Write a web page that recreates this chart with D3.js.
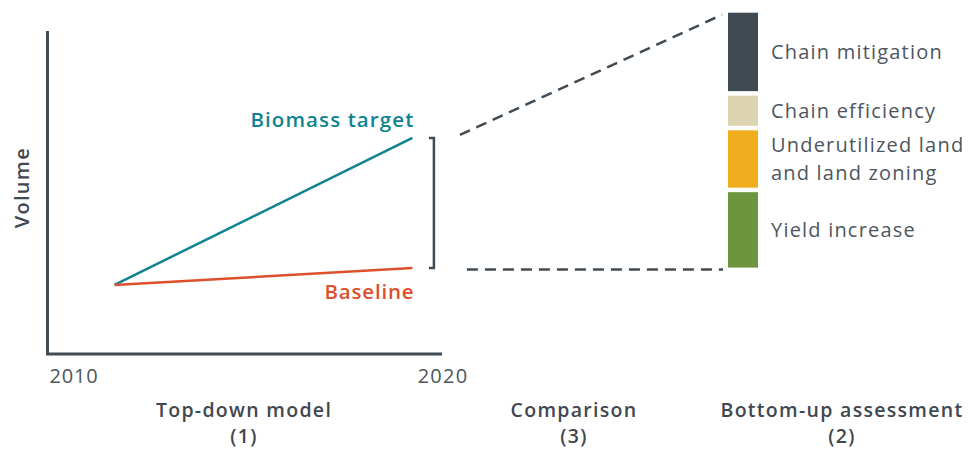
<!DOCTYPE html>
<html>
<head>
<meta charset="utf-8">
<script src="https://cdn.jsdelivr.net/npm/d3@7"></script>
<style>
  html, body { margin: 0; padding: 0; background: #ffffff; }
  svg { display: block; font-family: "Open Sans", "DejaVu Sans", sans-serif; }
</style>
</head>
<body>
<svg id="chart" width="968" height="449"></svg>
<script>
// ---- Data ----
const years = [2010, 2020];
const tickLabels = ["2010", "2020"];
const baselineSeries = [{ year: 2011.7, value: 21.4 }, { year: 2019.25, value: 26.6 }];
const targetSeries = [{ year: 2011.7, value: 21.4 }, { year: 2019.25, value: 66.9 }];
const seriesNames = ["Biomass target", "Baseline"];
const measures = ["Yield increase", "Underutilized land\nand land zoning", "Chain efficiency", "Chain mitigation"];
const measureValues = [75, 57, 30, 78];
const measureColors = ["#6c963d", "#f0ae1f", "#ddd5b2", "#3f4a53"];
const sectionTitles = ["Top-down model", "Comparison", "Bottom-up assessment"];
const sectionNumbers = ["(1)", "(3)", "(2)"];

// ---- Setup ----
const svg = d3.select("#chart");
const axisColor = "#414b53";
const textColor = "#4d565e";
const titleColor = "#3f4850";
const teal = "#0f8391";
const orange = "#de4f2b";

const x = d3.scaleLinear().domain([2010, 2020]).range([47.5, 442]);
const y = d3.scaleLinear().domain([0, 100]).range([354, 31]);

// Axes (L-shape)
svg.append("path")
  .attr("d", `M${x(2010)},${y(100)} V${y(0)} H${x(2020)}`)
  .attr("fill", "none").attr("stroke", axisColor).attr("stroke-width", 3);

// Tick labels
svg.append("text").attr("x", x(years[0]) + 2).attr("y", 383)
  .attr("font-size", 20).attr("letter-spacing", 0.8).attr("fill", textColor).text(tickLabels[0]);
svg.append("text").attr("x", x(years[1]) + 1).attr("y", 383).attr("text-anchor", "middle")
  .attr("font-size", 20).attr("letter-spacing", 1.2).attr("fill", textColor).text(tickLabels[1]);

// Y axis title
svg.append("text")
  .attr("transform", `translate(29,${y(51.5)}) rotate(-90)`)
  .attr("text-anchor", "middle").attr("font-size", 20).attr("font-weight", 600)
  .attr("letter-spacing", 1.3)
  .attr("fill", titleColor).text("Volume");

// Lines
const line = d3.line().x(d => x(d.year)).y(d => y(d.value));
svg.append("path").datum(targetSeries).attr("d", line)
  .attr("fill", "none").attr("stroke", teal).attr("stroke-width", 2.5);
svg.append("path").datum(baselineSeries).attr("d", line)
  .attr("fill", "none").attr("stroke", orange).attr("stroke-width", 2.5);

const endT = targetSeries[targetSeries.length - 1];
const endB = baselineSeries[baselineSeries.length - 1];

svg.append("text").attr("x", x(endT.year) + 2).attr("y", y(endT.value) - 11)
  .attr("text-anchor", "end").attr("font-size", 20.5).attr("font-weight", 600)
  .attr("letter-spacing", 1.1)
  .attr("fill", teal).text(seriesNames[0]);
svg.append("text").attr("x", x(endB.year) + 2).attr("y", y(endB.value) + 31)
  .attr("text-anchor", "end").attr("font-size", 20.5).attr("font-weight", 600)
  .attr("letter-spacing", 0.8)
  .attr("fill", orange).text(seriesNames[1]);

// Bracket
const bx = x(endT.year) + 21.5;
svg.append("path")
  .attr("d", `M${bx - 5},${y(endT.value)} H${bx} V${y(endB.value)} H${bx - 5}`)
  .attr("fill", "none").attr("stroke", axisColor).attr("stroke-width", 2.5);

// Stacked bar
const gap = 4.5;
const total = d3.sum(measureValues) + gap * (measureValues.length - 1);
const barBottom = y(endB.value) - 0.5;
const yb = d3.scaleLinear().domain([0, total]).range([barBottom, 12.7]);
const barX = 728, barW = 30;
let cum = 0;
const stack = measureValues.map((v, i) => {
  const s = { start: cum, end: cum + v, name: measures[i], color: measureColors[i] };
  cum += v + gap;
  return s;
});
svg.selectAll("rect.seg").data(stack).enter().append("rect")
  .attr("class", "seg")
  .attr("x", barX).attr("width", barW)
  .attr("y", d => yb(d.end)).attr("height", d => yb(d.start) - yb(d.end))
  .attr("fill", d => d.color);

// Segment labels
stack.forEach(d => {
  const lines = d.name.split("\n");
  const mid = (yb(d.start) + yb(d.end)) / 2;
  const lh = 27.4;
  lines.forEach((l, j) => {
    svg.append("text").attr("x", barX + barW + 13)
      .attr("y", mid + 7 + (j - (lines.length - 1) / 2) * lh)
      .attr("font-size", 20).attr("letter-spacing", 1.2).attr("fill", textColor)
      .text(l);
  });
});

// Dashed connectors
svg.append("line")
  .attr("x1", bx + 26).attr("y1", y(endT.value) - 3)
  .attr("x2", barX - 6).attr("y2", yb(total) + 2)
  .attr("stroke", axisColor).attr("stroke-width", 2.5).attr("stroke-dasharray", "11,7");
svg.append("line")
  .attr("x1", bx + 33).attr("y1", y(endB.value) + 1.5)
  .attr("x2", barX - 5).attr("y2", y(endB.value) + 1.5)
  .attr("stroke", axisColor).attr("stroke-width", 2.5).attr("stroke-dasharray", "11,7");

// Section titles
const titleX = [244, 574, 842];
sectionTitles.forEach((t, i) => {
  svg.append("text").attr("x", titleX[i]).attr("y", 416.5).attr("text-anchor", "middle")
    .attr("font-size", 19.5).attr("font-weight", 600).attr("letter-spacing", 1.3)
    .attr("fill", titleColor).text(t);
  svg.append("text").attr("x", titleX[i]).attr("y", 442.8).attr("text-anchor", "middle")
    .attr("font-size", 19.5).attr("font-weight", 600).attr("letter-spacing", 1.3)
    .attr("fill", titleColor).text(sectionNumbers[i]);
});
</script>
</body>
</html>
